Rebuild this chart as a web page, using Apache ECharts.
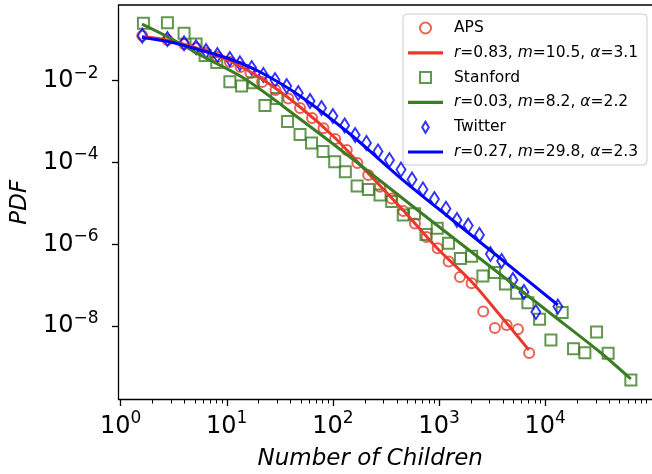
<!DOCTYPE html>
<html><head><meta charset="utf-8">
<script src="https://cdn.jsdelivr.net/npm/echarts@6/dist/echarts.min.js"></script>
<style>html,body{margin:0;padding:0;background:#fff}#c{width:652px;height:474px}</style>
</head><body><div id="c"></div>
<script>
// ---- data ----
const apsX = [1.60, 2.76, 3.96, 5.14, 6.38, 8.16, 10.7, 13.5, 16.7, 21.5, 28.8, 38.0, 49.0, 63.6, 81.5, 105, 135, 170, 215, 278, 358, 460, 593, 764, 970, 1231, 1574, 2028, 2608, 3360, 4332, 5534, 7068];
const apsY = [0.126, 0.0989, 0.0789, 0.0630, 0.0476, 0.0380, 0.0287, 0.0216, 0.0154, 0.00929, 0.00593, 0.00367, 0.00215, 0.00122, 6.86e-4, 3.75e-4, 2.02e-4, 9.72e-5, 4.95e-5, 2.56e-5, 1.32e-5, 6.52e-6, 3.23e-6, 1.51e-6, 7.99e-7, 3.80e-7, 1.59e-7, 1.11e-7, 2.28e-8, 8.98e-9, 1.06e-8, 8.35e-9, 2.20e-9];
const apsFitX = [1.59, 2.74, 5.14, 10.7, 21.5, 49.0, 105, 214, 457, 955, 1997, 3744, 7023];
const apsFitY = [0.120, 0.0989, 0.0630, 0.0303, 0.0110, 0.00228, 3.97e-4, 5.54e-5, 6.90e-6, 8.12e-7, 1.27e-7, 1.87e-8, 2.60e-9];

const stX = [1.64, 2.76, 3.96, 5.14, 6.25, 8.05, 10.7, 13.8, 17.8, 22.9, 29.6, 37.4, 49.0, 62.9, 80.7, 104, 131, 169, 216, 278, 358, 460, 587, 753, 962, 1227, 1591, 2028, 2590, 3325, 4218, 5381, 6873, 8853, 11320, 14460, 18500, 23650, 30480, 39180, 64130];
const stY = [0.253, 0.262, 0.144, 0.0789, 0.0413, 0.0279, 0.00945, 0.00742, 0.00893, 0.00247, 0.00367, 0.00101, 4.84e-4, 3.00e-4, 1.86e-4, 1.05e-4, 5.96e-5, 2.66e-5, 2.19e-5, 1.60e-5, 1.11e-5, 5.21e-6, 5.60e-6, 1.74e-6, 2.46e-6, 1.06e-6, 4.50e-7, 5.09e-7, 1.68e-7, 2.04e-7, 1.07e-7, 6.34e-8, 3.73e-8, 1.47e-8, 4.57e-9, 2.15e-8, 2.80e-9, 2.24e-9, 7.17e-9, 2.16e-9, 4.81e-10];
const stFitX = [1.59, 2.92, 5.61, 14.9, 49.0, 145, 661, 3744, 11080, 32730, 64130];
const stFitY = [0.243, 0.111, 0.0425, 0.0110, 0.00116, 1.36e-4, 6.16e-6, 1.88e-7, 2.09e-8, 2.33e-9, 5.09e-10];

const twX = [1.60, 2.76, 3.96, 5.14, 6.38, 8.16, 10.7, 13.3, 17.2, 22.1, 28.5, 36.7, 47.2, 60.9, 78.1, 100, 129, 162, 207, 266, 341, 438, 556, 705, 905, 1161, 1474, 1883, 2401, 3048, 3886, 4965, 6302, 8173, 13170];
const twY = [0.126, 0.1046, 0.0821, 0.0655, 0.0532, 0.0425, 0.0339, 0.0266, 0.0204, 0.0138, 0.0104, 0.00742, 0.00500, 0.00319, 0.00215, 0.00137, 8.03e-4, 4.70e-4, 3.00e-4, 1.86e-4, 1.15e-4, 6.74e-5, 3.84e-5, 2.19e-5, 1.28e-5, 7.42e-6, 3.93e-6, 2.88e-6, 1.69e-6, 5.79e-7, 3.91e-7, 1.34e-7, 6.82e-8, 2.21e-8, 3.01e-8];
const twFitX = [1.59, 2.92, 5.61, 10.7, 20.6, 49.0, 145, 457, 1267, 3744, 13170];
const twFitY = [0.114, 0.0884, 0.0563, 0.0339, 0.0163, 0.00423, 4.97e-4, 3.73e-5, 4.39e-6, 4.63e-7, 3.28e-8];

const seriesNames = ['APS', 'Stanford', 'Twitter'];
const fitNames = ['r=0.83, m=10.5, α=3.1', 'r=0.03, m=8.2, α=2.2', 'r=0.27, m=29.8, α=2.3'];

// ---- axis ticks ----
const xMajorTicks = [1, 10, 100, 1000, 10000];
const xDecades = [1, 10, 100, 1000, 10000];
const xMinorMantissas = [2, 3, 4, 5, 6, 7, 8, 9];
const yMajorTicks = [1e-2, 1e-4, 1e-6, 1e-8];
const xRange = [0.955, 1.083e5];
const yRange = [1.605e-10, 0.7097];

const xMinorTicks = [];
xDecades.forEach(d => xMinorMantissas.forEach(m => xMinorTicks.push(m * d)));

const F = 'DejaVu Sans';
const RED = '#e8392b', GREEN = '#3a7d22', BLUE = '#0000ff';
const pairs = (xs, ys) => xs.map((x, i) => [x, ys[i]]);
const expLabel = v => {
  const e = Math.round(Math.log10(v));
  return '{b|10}{s|' + (e < 0 ? '\u2212' + (-e) : String(e)) + '}';
};
const labelRich = {
  b: {fontFamily: F, fontSize: 24, lineHeight: 32, color: '#000'},
  s: {fontFamily: F, fontSize: 17, lineHeight: 17, verticalAlign: 'top', color: '#000'}
};
const tickStyle = {color: '#000', width: 1.3};
const barIcon = 'path://M0,0L35,0L35,3.2L0,3.2Z';

const chart = echarts.init(document.getElementById('c'), null, {renderer: 'canvas'});
const scatter = (name, xs, ys, color, symbol, size) => ({
  name, type: 'scatter', data: pairs(xs, ys), symbol, symbolSize: size,
  itemStyle: {color: 'rgba(255,255,255,0)', borderColor: color, borderWidth: 2},
  emphasis: {disabled: true}
});
const fit = (name, xs, ys, color) => ({
  name, type: 'line', data: pairs(xs, ys), symbol: 'none', smooth: 0.3,
  lineStyle: {color, width: 3}, itemStyle: {color}, emphasis: {disabled: true}
});

chart.setOption({
  animation: false,
  backgroundColor: '#fff',
  grid: {left: 118.5, right: -3, top: 5, bottom: 74.5, show: true, borderColor: '#000', borderWidth: 1.3, containLabel: false, outerBoundsMode: 'none'},
  xAxis: [{
    type: 'log', logBase: 10, min: xRange[0], max: xRange[1], position: 'bottom',
    axisLine: {show: false}, splitLine: {show: false},
    axisTick: {show: true, customValues: xMajorTicks, length: 6.5, lineStyle: tickStyle},
    axisLabel: {show: true, customValues: xMajorTicks, formatter: expLabel, rich: labelRich, margin: 11},
    name: 'Number of Children', nameLocation: 'middle', nameGap: 48,
    nameTextStyle: {fontFamily: F, fontStyle: 'italic', fontSize: 23, color: '#000', padding: [0, 33, 0, 0]}
  }, {
    type: 'log', logBase: 10, min: xRange[0], max: xRange[1], position: 'bottom',
    axisLine: {show: false}, splitLine: {show: false}, axisLabel: {show: false},
    axisTick: {show: true, customValues: xMinorTicks, length: 4, lineStyle: {color: '#000', width: 1}}
  }],
  yAxis: [{
    type: 'log', logBase: 10, min: yRange[0], max: yRange[1], position: 'left',
    axisLine: {show: false}, splitLine: {show: false},
    axisTick: {show: true, customValues: yMajorTicks, length: 6.5, lineStyle: tickStyle},
    axisLabel: {show: true, customValues: yMajorTicks, formatter: expLabel, rich: labelRich, margin: 20},
    name: 'PDF', nameLocation: 'middle', nameGap: 87,
    nameTextStyle: {fontFamily: F, fontStyle: 'italic', fontSize: 23, color: '#000'}
  }],
  legend: {
    orient: 'vertical', left: 403, top: 14,
    padding: [4, 9, 3, 5],
    itemWidth: 35, itemHeight: 11, itemGap: 4.8,
    backgroundColor: 'rgba(255,255,255,0.85)', borderColor: '#cccccc', borderWidth: 1, borderRadius: 4,
    selectedMode: false,
    data: [
      {name: seriesNames[0], icon: 'circle'},
      {name: fitNames[0], icon: barIcon, itemStyle: {color: RED, borderWidth: 0}},
      {name: seriesNames[1], icon: 'path://M0,0L10,0L10,10L0,10Z'},
      {name: fitNames[1], icon: barIcon, itemStyle: {color: GREEN, borderWidth: 0}},
      {name: seriesNames[2], icon: 'path://M0,-10L6,0L0,10L-6,0Z'},
      {name: fitNames[2], icon: barIcon, itemStyle: {color: BLUE, borderWidth: 0}}
    ],
    formatter: name => name.replace(/(r|m|α)=/g, '{i|$1}='),
    textStyle: {
      fontFamily: F, fontSize: 15.5, color: '#000', lineHeight: 20, padding: [0, 0, 0, 6],
      rich: {i: {fontFamily: F, fontStyle: 'italic', fontSize: 15.5, lineHeight: 20, color: '#000'}}
    }
  },
  series: [
    scatter(seriesNames[0], apsX, apsY, RED, 'circle', 10),
    fit(fitNames[0], apsFitX, apsFitY, RED),
    scatter(seriesNames[1], stX, stY, GREEN, 'rect', 11),
    fit(fitNames[1], stFitX, stFitY, GREEN),
    scatter(seriesNames[2], twX, twY, BLUE, 'diamond', [9, 14]),
    fit(fitNames[2], twFitX, twFitY, BLUE)
  ]
});
</script>
</body></html>
